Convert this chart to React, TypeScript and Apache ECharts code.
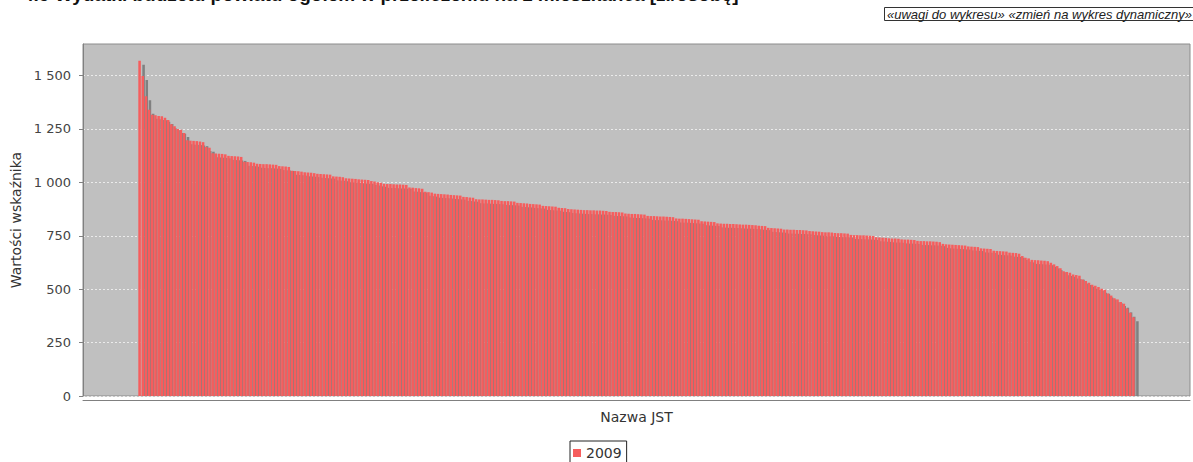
import React, { useEffect, useRef } from "react";
import * as echarts from "echarts";

const TITLE = "4.5 Wydatki budżetu powiatu ogółem w przeliczeniu na 1 mieszkańca [zł/osobę]";
const LINKS = "«uwagi do wykresu» «zmień na wykres dynamiczny»";
const SERIES_NAME = "2009";
const Y_NAME = "Wartości wskaźnika";
const X_NAME = "Nazwa JST";
const Y_TICKS = [0, 250, 500, 750, 1000, 1250, 1500];

// Values per JST (sorted descending)
const values2009 = [
  1569, 1498, 1403, 1340, 1316, 1314, 1311, 1309, 1302, 1292,
  1272, 1262, 1250, 1246, 1231, 1197, 1195, 1194, 1193, 1191,
  1188, 1165, 1162, 1136, 1135, 1134, 1133, 1131, 1124, 1123,
  1122, 1121, 1119, 1096, 1095, 1094, 1092, 1087, 1086, 1085,
  1085, 1084, 1083, 1082, 1076, 1075, 1074, 1072, 1054, 1053,
  1052, 1050, 1047, 1046, 1045, 1043, 1040, 1039, 1038, 1037,
  1036, 1028, 1027, 1026, 1024, 1019, 1018, 1017, 1016, 1014,
  1013, 1012, 1011, 1006, 1004, 1000, 998, 993, 992, 992,
  991, 990, 990, 989, 988, 976, 975, 973, 972, 970,
  956, 954, 952, 947, 946, 945, 944, 943, 941, 940,
  939, 938, 932, 931, 929, 928, 921, 920, 920, 919,
  918, 918, 917, 916, 913, 912, 912, 911, 910, 904,
  903, 902, 901, 899, 898, 897, 896, 890, 889, 888,
  887, 886, 881, 880, 879, 875, 874, 873, 872, 871,
  870, 870, 869, 869, 868, 868, 867, 866, 862, 861,
  861, 860, 859, 854, 853, 852, 852, 851, 850, 849,
  843, 842, 842, 841, 840, 840, 839, 838, 837, 831,
  830, 830, 829, 828, 827, 826, 825, 818, 817, 816,
  815, 814, 808, 807, 806, 806, 805, 805, 804, 803,
  802, 802, 801, 800, 799, 797, 796, 795, 787, 786,
  785, 784, 783, 779, 779, 778, 778, 777, 777, 776,
  775, 772, 771, 770, 769, 767, 766, 766, 765, 763,
  762, 762, 761, 760, 754, 753, 753, 752, 752, 751,
  750, 749, 743, 742, 741, 740, 738, 737, 737, 736,
  733, 732, 732, 731, 730, 726, 725, 725, 724, 724,
  723, 722, 720, 712, 710, 709, 708, 707, 706, 705,
  704, 700, 699, 698, 697, 691, 690, 689, 688, 680,
  679, 678, 677, 676, 671, 670, 669, 666, 655, 647,
  644, 637, 636, 635, 634, 633, 631, 624, 616, 608,
  598, 584, 580, 577, 569, 566, 563, 545, 538, 530,
  521, 516, 510, 502, 497, 480, 470, 458, 452, 440,
  432, 410, 390, 368,
];

const categories = values2009.map((_, i) => `JST ${i + 1}`);

const fmtThousands = (v: number) =>
  v >= 1000 ? `${Math.floor(v / 1000)} ${String(v % 1000).padStart(3, "0")}` : String(v);

export default function App() {
  const ref = useRef<HTMLDivElement>(null);

  useEffect(() => {
    const chart = echarts.init(ref.current!, null, { renderer: "svg" });
    const yMax = Math.max(...values2009) * 1.05;
    const axisFont = "'DejaVu Sans', sans-serif";

    chart.setOption({
      animation: false,
      backgroundColor: "#ffffff",
      grid: [
        {
          left: 83, right: 3, top: 44, bottom: 66,
          show: true, backgroundColor: "#c0c0c0", borderColor: "#8c8c8c", borderWidth: 1,
        },
        { left: 138, right: 58, top: 44, bottom: 66 },
      ],
      xAxis: [
        {
          gridIndex: 0, type: "value", min: 0, max: 1, offset: 4,
          axisLine: { show: true, onZero: false, lineStyle: { color: "#808080", width: 1 } },
          axisTick: { show: false }, axisLabel: { show: false }, splitLine: { show: false },
          name: X_NAME, nameLocation: "middle", nameGap: 10,
          nameTextStyle: { fontFamily: axisFont, fontSize: 14, color: "#333333" },
        },
        { gridIndex: 1, type: "category", data: categories, show: false, boundaryGap: true },
      ],
      yAxis: [
        {
          gridIndex: 0, type: "value", min: 0, max: yMax, interval: 250, offset: 5,
          axisLine: { show: true, lineStyle: { color: "#808080", width: 1 } },
          axisTick: { show: true, length: 4, customValues: Y_TICKS, lineStyle: { color: "#808080" } },
          axisLabel: {
            customValues: Y_TICKS, margin: 7, fontFamily: axisFont, fontSize: 13, color: "#444444",
            formatter: (v: number) => fmtThousands(v),
          },
          splitLine: { show: true, lineStyle: { color: "#ebebeb", type: [2, 2], width: 1 } },
          name: Y_NAME, nameLocation: "middle", nameGap: 54,
          nameTextStyle: { fontFamily: axisFont, fontSize: 14, color: "#333333" },
        },
        { gridIndex: 1, type: "value", min: 0, max: yMax, show: false },
      ],
      legend: {
        data: [SERIES_NAME],
        left: 570, top: 441,
        padding: [5, 5, 5, 3],
        borderColor: "#222222", borderWidth: 1,
        itemWidth: 8, itemHeight: 8, icon: "rect",
        textStyle: { fontFamily: axisFont, fontSize: 14, color: "#333333" },
      },
      series: [
        {
          type: "custom", name: "shadow", xAxisIndex: 1, yAxisIndex: 1,
          data: values2009.map((v, i) => [i, v]),
          encode: { x: 0, y: 1 }, clip: false, z: 1, silent: true,
          renderItem: (_p: any, api: any) => {
            const pt = api.coord([api.value(0), api.value(1)]);
            const base = api.coord([api.value(0), 0]);
            const w = api.size([1, 0])[0] * 0.8;
            return {
              type: "rect",
              shape: { x: pt[0] - w / 2 + 4, y: pt[1] + 4, width: w, height: Math.max(0, base[1] - pt[1] - 4) },
              style: { fill: "#808080" },
            };
          },
        },
        {
          type: "bar", name: SERIES_NAME, xAxisIndex: 1, yAxisIndex: 1,
          data: values2009, barCategoryGap: "20%", z: 2,
          itemStyle: { color: "#f65d5d" },
        },
      ],
      graphic: [
        {
          type: "text", left: 23, top: -15,
          style: { text: TITLE, font: "bold 19px 'Liberation Sans', Arial, sans-serif", fill: "#111111" },
        },
        {
          type: "rect", x: 884.5, y: 7.5,
          shape: { width: 330, height: 13 },
          style: { fill: "#ffffff", stroke: "#333333", lineWidth: 1 },
        },
        {
          type: "text", x: 887, y: 14,
          style: {
            text: LINKS, font: "italic 13px 'Liberation Sans', Arial, sans-serif",
            fill: "#222222", verticalAlign: "middle",
          },
        },
      ],
    });

    return () => chart.dispose();
  }, []);

  return (
    <div
      ref={ref}
      style={{ position: "fixed", left: 0, top: 0, width: 1193, height: 462, background: "#fff" }}
    />
  );
}
